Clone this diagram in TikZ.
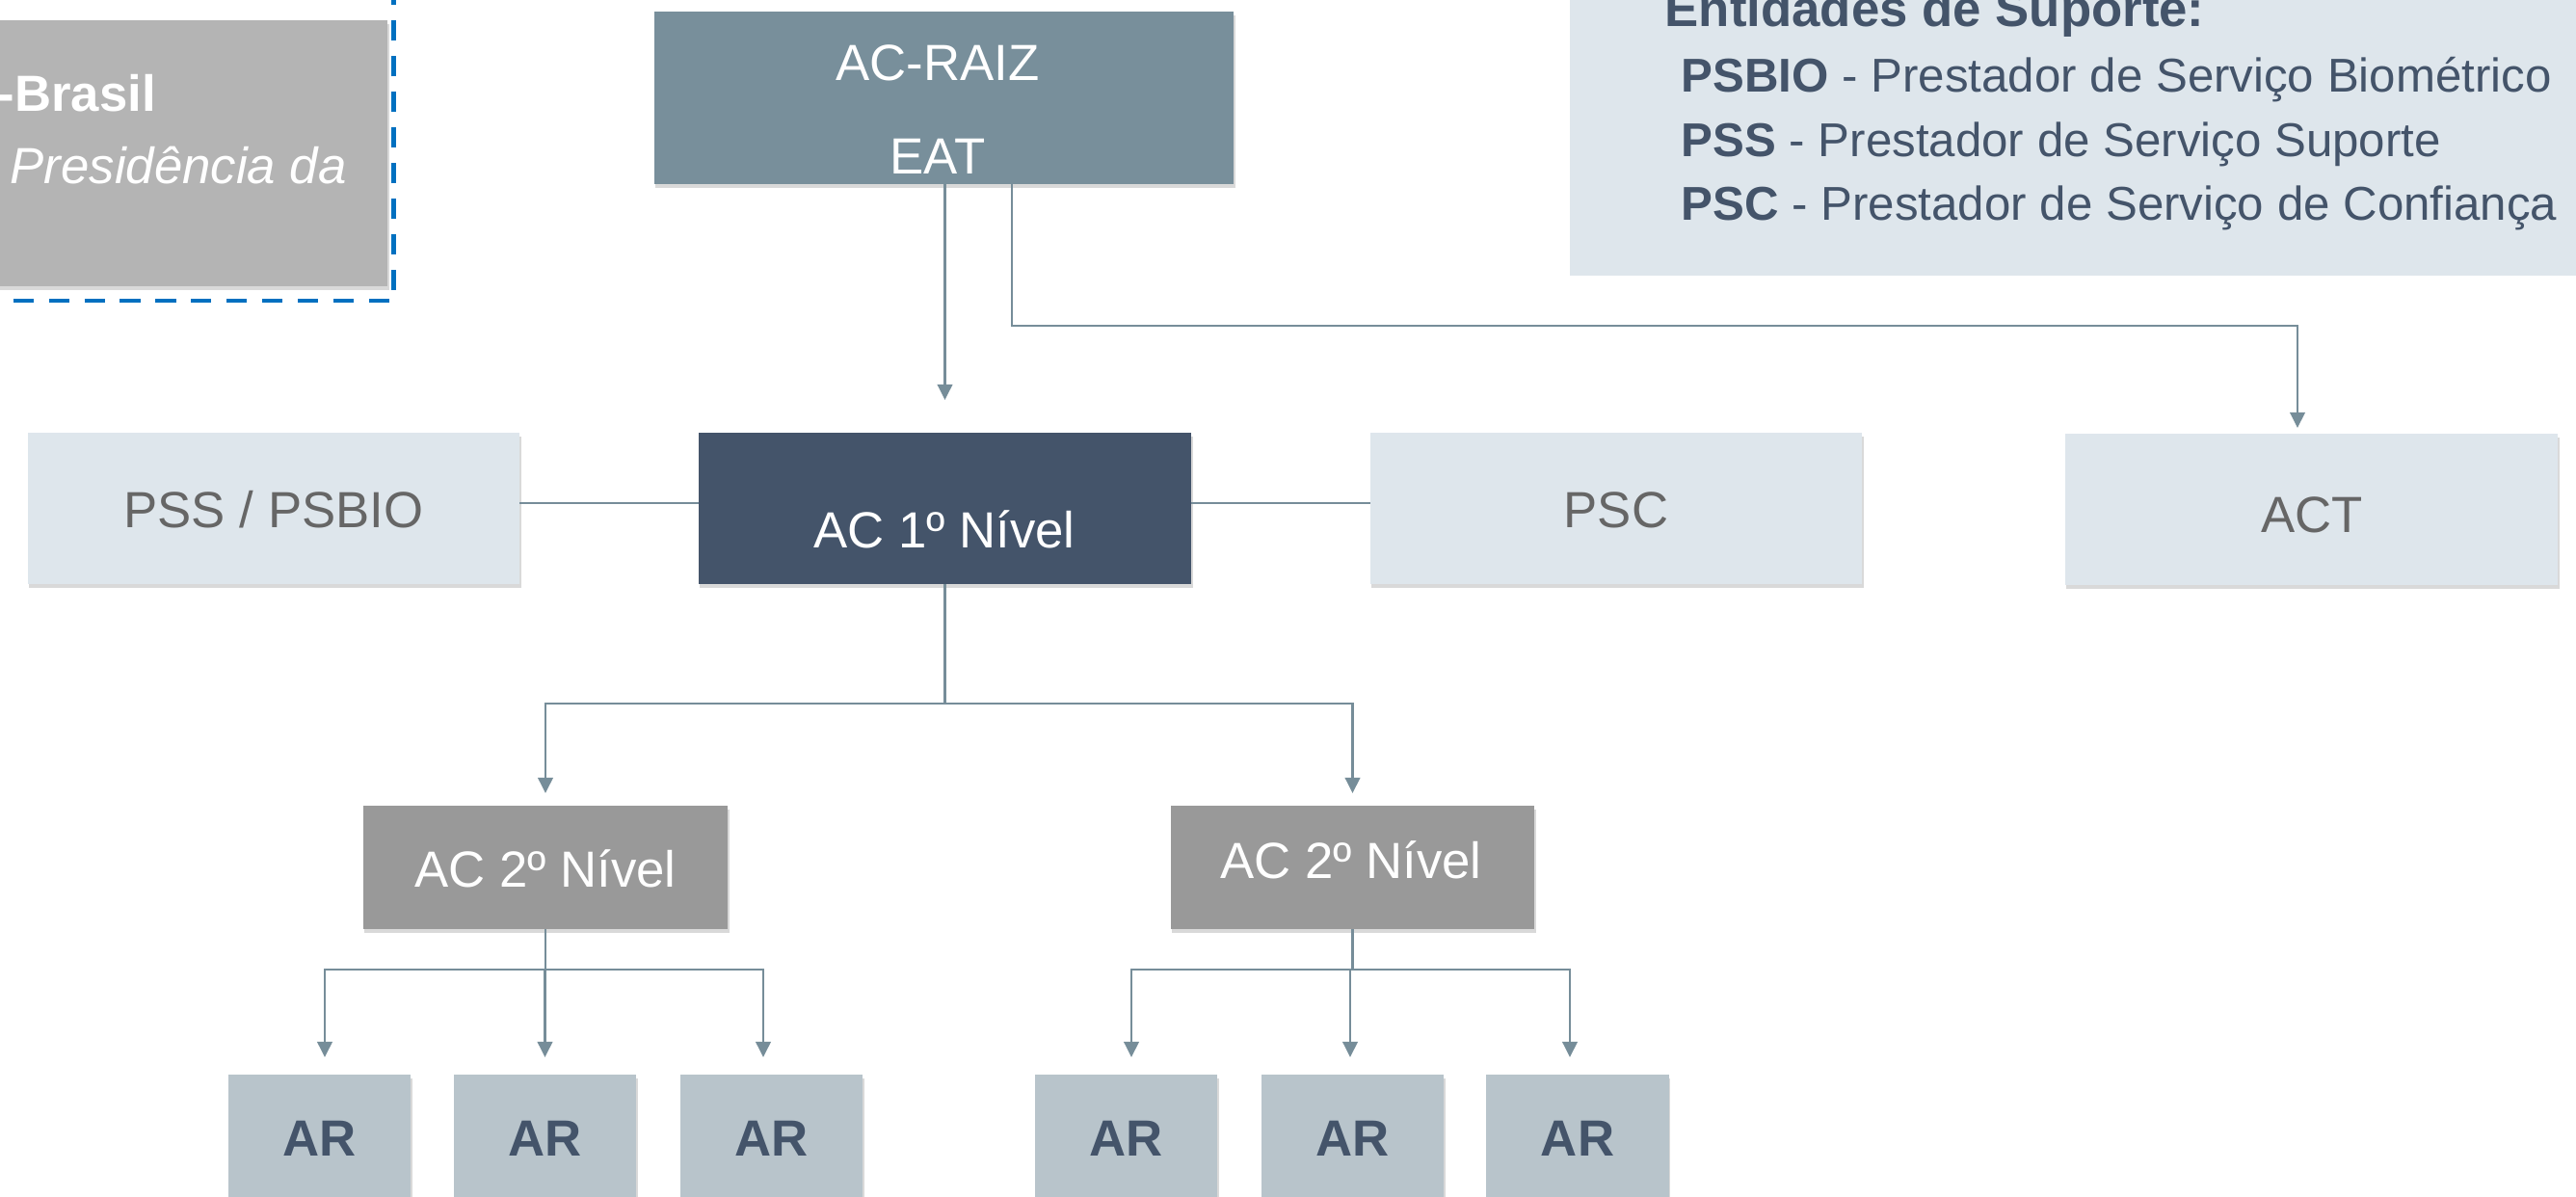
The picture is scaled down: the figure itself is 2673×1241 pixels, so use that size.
\documentclass[tikz,border=0pt]{standalone}
\usepackage{fontspec}
\setmainfont{Liberation Sans}
\usetikzlibrary{arrows.meta,shadows}
\definecolor{tlgray}{HTML}{B4B4B4}
\definecolor{raizc}{HTML}{788F9B}
\definecolor{acone}{HTML}{44546A}
\definecolor{lightc}{HTML}{DEE6EC}
\definecolor{actwo}{HTML}{999999}
\definecolor{arc}{HTML}{B8C4CB}
\definecolor{linec}{HTML}{768D99}
\definecolor{framec}{HTML}{0070C0}
\definecolor{greytext}{HTML}{666666}
\definecolor{darktext}{HTML}{44546A}
\begin{document}
\begin{tikzpicture}[x=0.01cm,y=-0.01cm,
  flatbox/.style={draw=none,inner sep=0,outer sep=0},
  box/.style={flatbox,drop shadow={shadow xshift=0.015cm,shadow yshift=-0.04cm,opacity=0.3}},
  lbl/.style={inner sep=0,anchor=base,font=\fontsize{15}{18}\selectfont},
  lgd/.style={inner sep=0,anchor=base west,text=darktext,font=\fontsize{14}{17}\selectfont},
  conn/.style={draw=linec,line width=0.8pt},
  arr/.style={conn,-{Triangle[length=4.6pt,width=4.4pt]}},
  frame/.style={draw=framec,line width=1.3pt,dash pattern=on 6pt off 4.5pt,inner sep=0,outer sep=0}]
\useasboundingbox (0,0) rectangle (2673,1241);
\clip (0,0) rectangle (2673,1241);
% top-left frame and box
\node[frame,minimum width=4.685cm,minimum height=3.72cm] (icpframe) at (174.25,126) {};
\node[box,fill=tlgray,minimum width=4.62cm,minimum height=2.76cm] (icp) at (171,159) {};
\node[lbl,anchor=base west,text=white,font=\fontsize{15}{18}\selectfont\bfseries] (ticpa) at (-3,115) {-Brasil};
\node[lbl,anchor=base west,text=white,font=\fontsize{15}{18}\selectfont\itshape] (ticpb) at (10,190) {Presidência da};
% AC-RAIZ
\node[box,fill=raizc,minimum width=6.01cm,minimum height=1.79cm] (raiz) at (979.5,101.5) {};
\node[lbl,text=white] (traiza) at (973,83) {AC-RAIZ};
\node[lbl,text=white] (traizb) at (973,180) {EAT};
% legend
\node[flatbox,fill=lightc,minimum width=10.91cm,minimum height=3.46cm] (legend) at (2174.5,113) {};
\node[lgd,font=\fontsize{15}{18}\selectfont\bfseries] (lgt) at (1727,27) {Entidades de Suporte:};
\node[lgd] (lga) at (1744,95) {\textbf{PSBIO} - Prestador de Serviço Biométrico};
\node[lgd] (lgb) at (1744,162) {\textbf{PSS} - Prestador de Serviço Suporte};
\node[lgd] (lgc) at (1744,228) {\textbf{PSC} - Prestador de Serviço de Confiança};
% first level row
\node[box,fill=lightc,minimum width=5.10cm,minimum height=1.57cm] (pss) at (284,527.5) {};
\node[lbl,text=greytext] (tpss) at (284,547) {PSS / PSBIO};
\node[box,fill=acone,minimum width=5.11cm,minimum height=1.57cm] (ac1) at (980.5,527.5) {};
\node[lbl,text=white] (tac1) at (980,568) {AC 1º Nível};
\node[box,fill=lightc,minimum width=5.10cm,minimum height=1.57cm] (psc) at (1677,527.5) {};
\node[lbl,text=greytext] (tpsc) at (1677,547) {PSC};
\node[box,fill=lightc,minimum width=5.11cm,minimum height=1.57cm] (act) at (2398.5,528.5) {};
\node[lbl,text=greytext] (tact) at (2399,552) {ACT};
% second level
\node[box,fill=actwo,minimum width=3.78cm,minimum height=1.28cm] (ac2l) at (566,900) {};
\node[lbl,text=white] (tac2l) at (566,920) {AC 2º Nível};
\node[box,fill=actwo,minimum width=3.77cm,minimum height=1.28cm] (ac2r) at (1403.5,900) {};
\node[lbl,text=white] (tac2r) at (1402,911) {AC 2º Nível};
% AR boxes
\foreach \n/\cx in {1/331.5,2/565.5,3/800.5,4/1168.5,5/1403.5,6/1637}{
  \node[box,fill=arc,minimum width=1.89cm,minimum height=1.65cm] (ar\n) at (\cx,1197.5) {};
  \node[lbl,text=darktext,font=\fontsize{15}{18}\selectfont\bfseries] (tar\n) at (\cx,1199) {AR};
}
% connectors
\coordinate (ya) at (0,338);
\coordinate (yb) at (0,730);
\coordinate (yc) at (0,1006);
\draw[arr,shorten >=0.34cm] (raiz.south -| ac1.north) -- (ac1.north);
\coordinate (ja) at ([xshift=0.705cm]raiz.south |- ya);
\draw[arr] ([xshift=0.705cm]raiz.south) -- (ja) -| ([xshift=-0.145cm,yshift=0.06cm]act.north);
\draw[conn] ([yshift=0.055cm]pss.east) -- ([yshift=0.055cm]ac1.west);
\draw[conn] ([yshift=0.055cm]ac1.east) -- ([yshift=0.055cm]psc.west);
\coordinate (jb) at (ac1.south |- yb);
\draw[conn] (ac1.south) -- (jb);
\draw[arr] (jb) -| ([yshift=0.13cm]ac2l.north);
\draw[arr] (jb) -| ([yshift=0.13cm]ac2r.north);
\coordinate (jc) at (ac2l.south |- yc);
\draw[conn] (ac2l.south) -- (jc);
\draw[arr] (jc) -| ([xshift=0.055cm,yshift=0.18cm]ar1.north);
\draw[arr] (jc) -| ([yshift=0.18cm]ar2.north);
\draw[arr] (jc) -| ([xshift=-0.085cm,yshift=0.18cm]ar3.north);
\coordinate (jd) at (ac2r.south |- yc);
\draw[conn] (ac2r.south) -- (jd);
\draw[arr] (jd) -| ([xshift=0.055cm,yshift=0.18cm]ar4.north);
\draw[arr] (jd) -| ([xshift=-0.025cm,yshift=0.18cm]ar5.north);
\draw[arr] (jd) -| ([xshift=-0.08cm,yshift=0.18cm]ar6.north);
\end{tikzpicture}
\end{document}
